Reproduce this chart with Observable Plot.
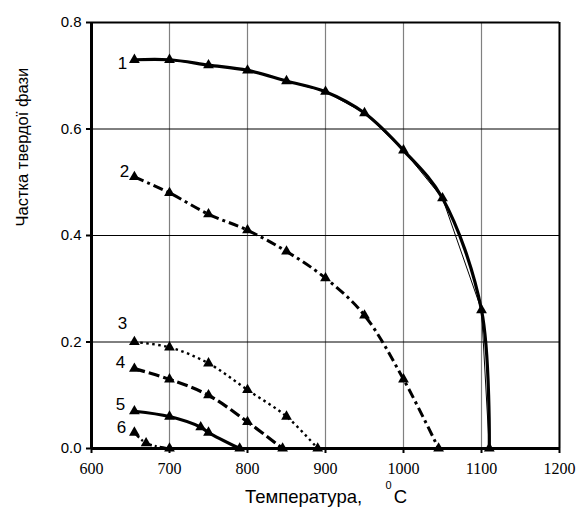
<!DOCTYPE html>
<html><head><meta charset="utf-8">
<script src="https://cdn.jsdelivr.net/npm/d3@7"></script>
<script src="https://cdn.jsdelivr.net/npm/@observablehq/plot@0.6"></script>
<style>body{margin:0;background:#fff}</style>
</head><body><div id="chart"></div>
<script>
const xTicks = [600, 700, 800, 900, 1000, 1100, 1200];
const yTicks = [0, 0.2, 0.4, 0.6, 0.8];
const s1T = [655, 700, 750, 800, 850, 900, 950, 1000, 1050, 1100, 1110];
const s1Y = [0.73, 0.73, 0.72, 0.71, 0.69, 0.67, 0.63, 0.56, 0.47, 0.26, 0];
const s2T = [655, 700, 750, 800, 850, 900, 950, 1000, 1045];
const s2Y = [0.51, 0.48, 0.44, 0.41, 0.37, 0.32, 0.25, 0.13, 0];
const s3T = [655, 700, 750, 800, 850, 890];
const s3Y = [0.20, 0.19, 0.16, 0.11, 0.06, 0];
const s4T = [655, 700, 750, 800, 845];
const s4Y = [0.15, 0.13, 0.10, 0.05, 0];
const s5T = [655, 700, 740, 750, 790];
const s5Y = [0.07, 0.06, 0.04, 0.03, 0];
const s6T = [655, 670, 700];
const s6Y = [0.03, 0.01, 0];
const seriesLabels = ["1", "2", "3", "4", "5", "6"];

const SANS = "'Liberation Sans', Arial, sans-serif";
const SERIF = "'Liberation Serif', 'DejaVu Serif', 'Times New Roman', serif";
const toPts = (T, Y) => T.map((t, i) => ({t, y: Y[i]}));
const S = [toPts(s1T, s1Y), toPts(s2T, s2Y), toPts(s3T, s3Y), toPts(s4T, s4Y), toPts(s5T, s5Y), toPts(s6T, s6Y)];
const styles = [
  {strokeWidth: 3.2, dash: null},
  {strokeWidth: 3, dash: "10,4,3,4"},
  {strokeWidth: 2.4, dash: "2.5,3.5"},
  {strokeWidth: 3.2, dash: "11,4"},
  {strokeWidth: 3.2, dash: null},
  {strokeWidth: 2.4, dash: "7,3,2,3"}
];
const labelOff = [[-12, 4], [-10, -5], [-12, -18], [-14, -6], [-14, -7], [-13, -5]];
const labelPts = S.map((s, i) => ({t: s[0].t, y: s[0].y, label: seriesLabels[i], dx: labelOff[i][0], dy: labelOff[i][1]}));

const marks = [
  Plot.gridX(xTicks, {stroke: "#808080", strokeOpacity: 1, strokeWidth: 1.2}),
  Plot.gridY(yTicks, {stroke: "#000", strokeOpacity: 1, strokeWidth: 1}),
  Plot.line(S[0], {x: "t", y: "y", stroke: "#000", strokeWidth: 1}),
];
S.forEach((s, i) => {
  marks.push(Plot.line(s, {x: "t", y: "y", stroke: "#000", strokeWidth: styles[i].strokeWidth,
    strokeDasharray: styles[i].dash, strokeLinecap: "butt", curve: "catmull-rom"}));
  marks.push(Plot.dot(s, {x: "t", y: "y", symbol: "triangle", fill: "#000", r: 4}));
});
labelPts.forEach(p => {
  marks.push(Plot.text([p], {x: "t", y: "y", text: "label", dx: p.dx, dy: p.dy, fontSize: 17, fill: "#000"}));
});
marks.push(
  Plot.ruleY([0.8], {stroke: "#000", strokeWidth: 2}),
  Plot.ruleX([1200], {stroke: "#000", strokeWidth: 2}),
  Plot.ruleY([0], {stroke: "#000", strokeWidth: 3}),
  Plot.ruleX([600], {stroke: "#000", strokeWidth: 3}),
  Plot.axisX(xTicks, {tickSize: 5, tickPadding: 9, fontSize: 16, stroke: "#000", strokeWidth: 2,
    label: null, tickFormat: d => String(d)}),
  Plot.axisY(yTicks, {tickSize: 5, tickPadding: 5, fontSize: 15, stroke: "#000", strokeWidth: 2,
    label: null, tickFormat: d3.format(".1f")}),
  Plot.text(["Температура,"], {frameAnchor: "bottom", dy: 54, dx: -22, fontSize: 18.5, fill: "#000"}),
  Plot.text(["0"], {frameAnchor: "bottom", dy: 40, dx: 63, fontSize: 11, fill: "#000"}),
  Plot.text(["C"], {frameAnchor: "bottom", dy: 54, dx: 75, fontSize: 18.5, fill: "#000"}),
  Plot.text(["Частка твердої фази"], {frameAnchor: "left", dx: -69, dy: -9, rotate: -90, fontSize: 16.5, fill: "#000"})
);

const chart = Plot.plot({
  width: 578, height: 510,
  marginLeft: 91, marginRight: 19, marginTop: 22, marginBottom: 62,
  x: {domain: [600, 1200]},
  y: {domain: [0, 0.8]},
  style: {background: "#fff", overflow: "visible", fontFamily: SANS},
  marks
});
const xLabels = new Set(xTicks.map(String));
chart.querySelectorAll("text").forEach(el => {
  if (xLabels.has(el.textContent.trim())) {
    el.setAttribute("font-family", SERIF);
    el.style.setProperty("font-family", SERIF, "important");
  }
});
document.getElementById("chart").appendChild(chart);
</script>
</body></html>
